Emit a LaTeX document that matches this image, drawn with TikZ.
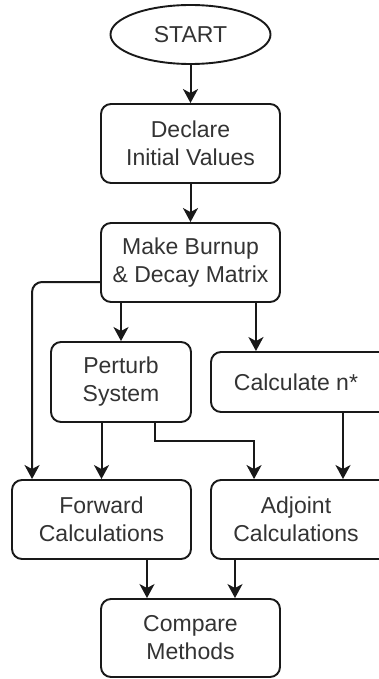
\documentclass[tikz,border=0pt]{standalone}
\usepackage{fontspec}
\setmainfont{Liberation Sans}
\usetikzlibrary{shapes.geometric,arrows.meta}
\begin{document}
\begin{tikzpicture}[x=1pt,y=-1pt,
  every node/.style={font=\fontsize{23}{28}\selectfont, text=black!80, align=center, line width=1.9pt, draw=black!90},
  box/.style={rectangle, rounded corners=10pt, inner sep=0pt, minimum width=179pt, minimum height=79pt},
  oval/.style={ellipse, inner sep=0pt, minimum width=160pt, minimum height=59pt},
  arr/.style={draw=black!90, line width=2pt, -{Stealth[length=14pt,width=15pt,inset=4pt]}}
]
\useasboundingbox (0,0) rectangle (379,679);
\clip (0,0) rectangle (379,679);
\node[oval] (start) at (190.5,34.5) {START};
\node[box] (declare) at (190.5,143.5) {Declare\\Initial Values};
\node[box] (make) at (190.5,262.5) {Make Burnup\\\& Decay Matrix};
\node[box, minimum width=140pt, minimum height=80pt] (perturb) at (121,382) {Perturb\\System};
\node[box, minimum height=60pt] (calc) at (300.5,382) {};
\node at (296,382) [draw=none] (calctext) {Calculate n*};
\node[box] (forward) at (101.5,519.5) {Forward\\Calculations};
\node[box] (adjoint) at (300.5,519.5) {};
\node at (296,519.5) [draw=none] (adjtext) {Adjoint\\Calculations};
\node[box, minimum height=78pt] (compare) at (190.5,638) {Compare\\Methods};

\draw[arr] (start.south) -- (declare.north);
\draw[arr] (declare.south) -- (make.north);
\draw[arr] (make.south -| perturb.north) -- (perturb.north);
\draw[arr] ([xshift=-25pt]make.south east) -- ([xshift=-25pt]make.south east |- calc.north);
\draw[arr, rounded corners=10pt] ([yshift=-19.5pt]make.west) -| ([xshift=21pt]forward.north west);
\draw[arr] (perturb.south -| forward.north) -- (forward.north);
\draw[arr] ([xshift=-37pt]perturb.south east) -- ++(0,18) -| ([xshift=44pt]adjoint.north west);
\draw[arr] ([xshift=42.5pt]calc.south) -- ([xshift=42.5pt]adjoint.north);
\draw[arr] ([xshift=45.5pt]forward.south) -- ([xshift=45.5pt]forward.south |- compare.north);
\draw[arr] ([xshift=-65.5pt]adjoint.south) -- ([xshift=-65.5pt]adjoint.south |- compare.north);
\end{tikzpicture}
\end{document}
